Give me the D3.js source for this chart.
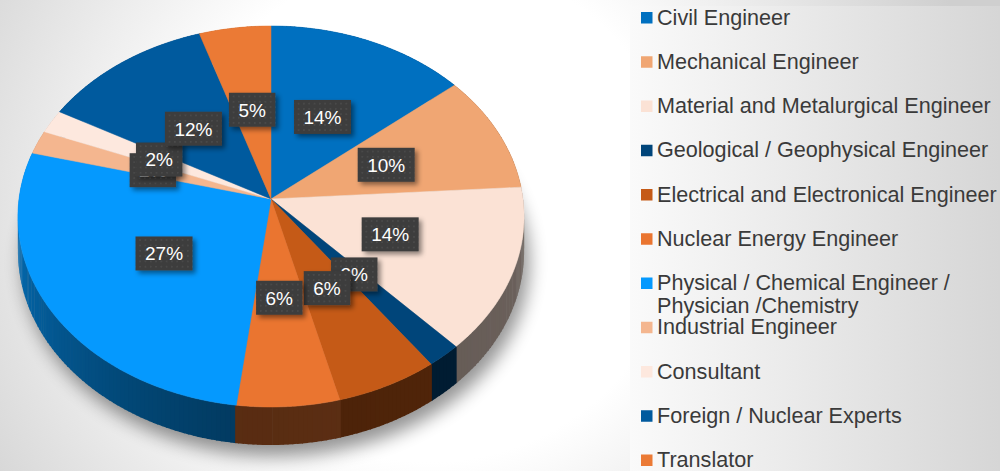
<!DOCTYPE html>
<html>
<head>
<meta charset="utf-8">
<script src="https://cdn.jsdelivr.net/npm/d3@7"></script>
<style>
  body { margin: 0; }
  svg { display: block; }
</style>
</head>
<body>
<svg id="chart" width="1000" height="471"></svg>
<script>
// ===== data =====
var categories = ["Civil Engineer", "Mechanical Engineer", "Material and Metalurgical Engineer",
    "Geological / Geophysical Engineer", "Electrical and Electronical Engineer", "Nuclear Energy Engineer",
    "Physical / Chemical Engineer / Physician /Chemistry", "Industrial Engineer", "Consultant",
    "Foreign / Nuclear Experts", "Translator"]
var shares = [14, 10, 14, 2, 6, 6, 27, 2, 2, 12, 5]
var sliceColors = ["#0070C0", "#F0A673", "#FBE2D5", "#00457A", "#C55A17", "#EA7530",
    "#0599FE", "#F4B68F", "#FDE8DE", "#005A9E", "#EB7A35"]

var svg = d3.select("#chart")
var defs = svg.append("defs")

// ===== background =====
var bg = defs.append("radialGradient").attr("id", "bg")
    .attr("cx", 430).attr("cy", 210).attr("r", 560).attr("gradientUnits", "userSpaceOnUse")
bg.append("stop").attr("offset", 0.45).attr("stop-color", "#ffffff")
bg.append("stop").attr("offset", 1).attr("stop-color", "#cfcfcf")
svg.append("rect").attr("width", 1000).attr("height", 471).attr("fill", "url(#bg)")

var lg = defs.append("linearGradient").attr("id", "legbg")
lg.append("stop").attr("offset", 0).attr("stop-color", "#fafafa")
lg.append("stop").attr("offset", 1).attr("stop-color", "#d6d6d6")
svg.append("rect").attr("x", 630).attr("y", 6).attr("width", 370).attr("height", 465).attr("fill", "url(#legbg)")

// filters
var blur = defs.append("filter").attr("id", "pieShadow").attr("x", -0.2).attr("y", -0.2).attr("width", 1.4).attr("height", 1.4)
blur.append("feGaussianBlur").attr("stdDeviation", 9)

var boxSh = defs.append("filter").attr("id", "boxShadow").attr("x", -0.3).attr("y", -0.3).attr("width", 1.6).attr("height", 1.8)
boxSh.append("feDropShadow").attr("dx", 3).attr("dy", 3).attr("stdDeviation", 2.5)
    .attr("flood-color", "#000").attr("flood-opacity", 0.45)

var dots = defs.append("pattern").attr("id", "dots").attr("width", 5.3).attr("height", 5.3)
    .attr("patternUnits", "userSpaceOnUse")
dots.append("rect").attr("width", 5.3).attr("height", 5.3).attr("fill", "#3d3d3d")
dots.append("rect").attr("x", 2).attr("y", 2).attr("width", 1.2).attr("height", 1.2).attr("fill", "#575757")

// ===== 3D projection of the pie =====
var cx = 271, cy = 216.5, sx = 252, sy = 190.5, persp = -0.092, depth = 34.5

function project(r, a, down) {
    var u = r * Math.sin(a), v = -r * Math.cos(a)
    var w = 1 + persp * v
    return [cx + sx * u / w, cy + sy * (v + persp) / w + (down ? depth / w : 0)]
}

function shade(col, a) {
    var deg = a * 180 / Math.PI
    var f
    if (deg >= 185) f = 0.38 + 0.36 * Math.pow(Math.min(1, (deg - 185) / 85), 1.2)
    else f = 0.38 + 0.06 * Math.max(0, (180 - deg) / 90)
    var c = d3.rgb(col)
    return d3.rgb(c.r * f, c.g * f, c.b * f)
}

var pie = d3.pie().sort(null).value(d => d)
var arcs = pie(shares)
var step = Math.PI / 180

// shadow under the pie
var outline = []
for (var a = 0; a <= 2 * Math.PI + 1e-6; a += step) outline.push(project(1, a, true))
svg.append("path")
    .attr("d", d3.line()(outline) + "Z")
    .attr("transform", "translate(5,11)")
    .attr("fill", "#000").attr("opacity", 0.42)
    .attr("filter", "url(#pieShadow)")

// side wall, drawn as thin strips back to front (strips overlap a little to hide seams)
var strips = []
arcs.forEach(function(d, i) {
    for (var a = d.startAngle; a < d.endAngle - 1e-9; a += step) {
        var b = Math.min(a + step, d.endAngle)
        strips.push({ a0: a, a1: b, i: i, last: b >= d.endAngle - 1e-9 })
    }
})
strips.sort((p, q) => -Math.cos((p.a0 + p.a1) / 2) + Math.cos((q.a0 + q.a1) / 2))

svg.append("g").selectAll("path")
    .data(strips)
    .enter()
    .append("path")
    .attr("d", function(s) {
        var m = (s.a0 + s.a1) / 2
        var lo = s.a0 - (m > Math.PI ? 0 : 0.004)
        var hi = s.a1 + (m > Math.PI ? 0.004 : 0)
        var pts = [project(1, lo), project(1, hi), project(1, hi, true), project(1, lo, true)]
        return d3.line()(pts) + "Z"
    })
    .attr("fill", s => shade(sliceColors[s.i], (s.a0 + s.a1) / 2))

// top faces
svg.append("g").selectAll("path")
    .data(arcs)
    .enter()
    .append("path")
    .attr("d", function(d) {
        var pts = [project(0, 0)]
        for (var a = d.startAngle; a < d.endAngle; a += step / 2) pts.push(project(1, a))
        pts.push(project(1, d.endAngle))
        return d3.line()(pts) + "Z"
    })
    .attr("fill", (d, i) => sliceColors[i])
    .attr("stroke", (d, i) => sliceColors[i])
    .attr("stroke-width", 0.5)

// data labels
var labels = svg.append("g")
arcs.forEach(function(d, i) {
    var p = project(0.5, (d.startAngle + d.endAngle) / 2)
    var g = labels.append("g").attr("transform", "translate(" + p[0] + "," + p[1] + ")")
    var box = g.append("rect").attr("fill", "url(#dots)").attr("filter", "url(#boxShadow)")
    var t = g.append("text")
        .attr("text-anchor", "middle")
        .attr("dy", "0.36em")
        .attr("fill", "#ffffff")
        .style("font-family", "'Liberation Sans', Arial, sans-serif")
        .style("font-size", "19px")
        .text(shares[i] + "%")
    var w = t.node().getComputedTextLength() + 19
    box.attr("x", -w / 2).attr("y", -17).attr("width", w).attr("height", 34)
})

// ===== legend =====
var legend = svg.append("g").attr("transform", "translate(641,17.5)")
var items = legend.selectAll("g")
    .data(categories)
    .enter()
    .append("g")
    .attr("transform", (d, i) => "translate(0," + (i * 44.25) + ")")

items.append("rect")
    .attr("x", 0).attr("y", -5.5).attr("width", 11.5).attr("height", 11.5)
    .attr("fill", (d, i) => sliceColors[i])

var ltext = items.append("text")
    .attr("x", 16).attr("y", 7)
    .attr("fill", "#3a3a3a")
    .style("font-family", "'Liberation Sans', Arial, sans-serif")
    .style("font-size", "21.6px")

ltext.each(function(d) {
    var el = d3.select(this)
    if (d.indexOf("Physician") >= 0) {
        el.append("tspan").attr("x", 16).text("Physical / Chemical Engineer /")
        el.append("tspan").attr("x", 16).attr("dy", 23).text("Physician /Chemistry")
    } else {
        el.text(d)
    }
})
</script>
</body>
</html>
